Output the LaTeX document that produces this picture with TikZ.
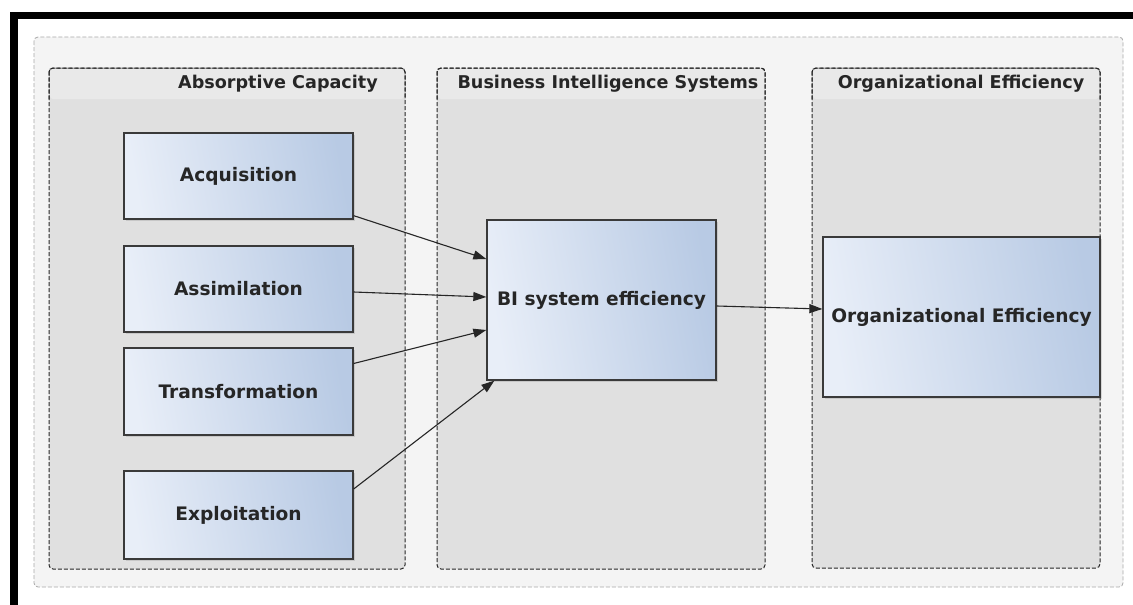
\documentclass[tikz,border=0pt]{standalone}
\usepackage{fontspec}
\setmainfont{DejaVu Sans}
\usetikzlibrary{arrows.meta,shadows}
\definecolor{outerbg}{HTML}{F4F4F4}
\definecolor{lanebg}{HTML}{E0E0E0}
\definecolor{lanehead}{HTML}{E9E9E9}
\definecolor{boxl}{HTML}{E8EEF8}
\definecolor{boxr}{HTML}{B8CAE4}
\definecolor{boxedge}{HTML}{3A3A3A}
\definecolor{outerdash}{HTML}{A8A8A8}
\tikzset{
  lane/.style={draw=black!85, dash pattern=on 4pt off 2pt, line width=1pt, fill=lanebg, rounded corners=4pt},
  outerbox/.style={draw=outerdash, dash pattern=on 4pt off 2pt, line width=0.8pt, fill=outerbg, rounded corners=4pt},
  lanetitle/.style={font=\bfseries\fontsize{17.6}{20}\selectfont, text=black!85, inner sep=0pt},
  item/.style={draw=boxedge, line width=1.3pt, shading=axis, left color=boxl, right color=boxr, shading angle=100,
     font=\bfseries\fontsize{18.6}{21}\selectfont, text=black!85, inner sep=0pt,
     drop shadow={shadow xshift=1.5pt, shadow yshift=-1.5pt, opacity=0.25}},
  conn/.style={draw=black!85, line width=1.1pt, -{Triangle[length=13pt,width=9pt]}}
}
\begin{document}
\begin{tikzpicture}[x=1pt,y=-1pt]
\useasboundingbox (0,0) rectangle (1133,605);
\fill[white] (0,0) rectangle (1133,605);
% black frame (top and left)
\fill[black] (10,12) rectangle (1133,19);
\fill[black] (10,12) rectangle (18,605);
% outer dashed container
\path[outerbox] (34,37) rectangle (1123,587);
% lanes
\path[lane] (49,68) rectangle (405,569);
\path[lane] (437,68) rectangle (765,569);
\path[lane] (812,68) rectangle (1100,568);
% header bands
\fill[lanehead, rounded corners=3pt] (50,69) rectangle (404,99);
\fill[lanehead, rounded corners=3pt] (438,69) rectangle (764,99);
\fill[lanehead, rounded corners=3pt] (813,69) rectangle (1099,99);
\draw[black!85, dash pattern=on 4pt off 2pt, line width=1pt, rounded corners=4pt] (49,99) -- (49,68) -- (405,68) -- (405,99);
\draw[black!85, dash pattern=on 4pt off 2pt, line width=1pt, rounded corners=4pt] (437,99) -- (437,68) -- (765,68) -- (765,99);
\draw[black!85, dash pattern=on 4pt off 2pt, line width=1pt, rounded corners=4pt] (812,99) -- (812,68) -- (1100,68) -- (1100,99);
\node[lanetitle] (t1) at (278,84) {Absorptive Capacity};
\node[lanetitle] (t2) at (608,84) {Business Intelligence Systems};
\node[lanetitle] (t3) at (961,84) {Organizational Efficiency};
% boxes
\node[item, minimum width=229pt, minimum height=86pt] (acq) at (238.5,176) {Acquisition};
\node[item, minimum width=229pt, minimum height=86pt] (asm) at (238.5,289) {Assimilation};
\node[item, minimum width=229pt, minimum height=87pt] (trf) at (238.5,391.5) {Transformation};
\node[item, minimum width=229pt, minimum height=88pt] (exp) at (238.5,515) {Exploitation};
\node[item, minimum width=229pt, minimum height=160pt] (bi) at (601.5,300) {BI system efficiency};
\node[item, minimum width=277pt, minimum height=160pt] (oe) at (961.5,317) {Organizational Efficiency};
% connectors
\draw[conn] ([yshift=4pt]acq.south east) -- ([yshift=41pt]bi.west);
\draw[conn] ([yshift=-3pt]asm.east) -- ([yshift=3pt]bi.west);
\draw[conn] ([yshift=28pt]trf.east) -- ([yshift=-30pt]bi.west);
\draw[conn] ([yshift=26pt]exp.east) -- ([xshift=8pt]bi.south west);
\draw[conn] ([yshift=-6pt]bi.east) -- ([yshift=8pt]oe.west);
\end{tikzpicture}
\end{document}
